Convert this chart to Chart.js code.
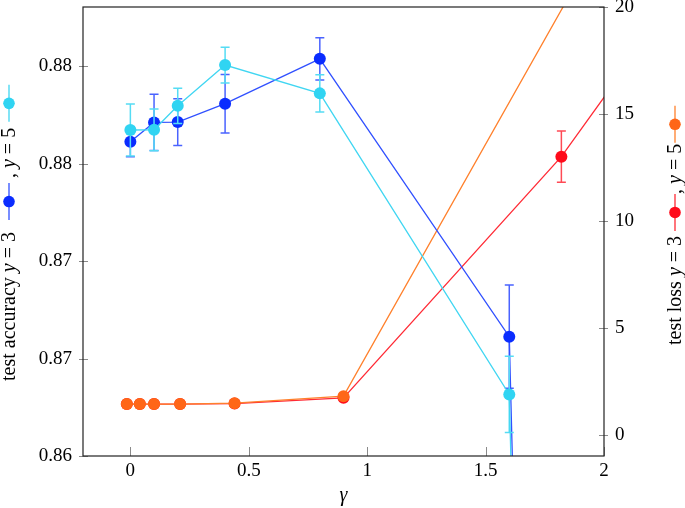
<!DOCTYPE html>
<html lang="en">
<head>
<meta charset="UTF-8">
<title>test accuracy / test loss vs gamma</title>
<script src="https://cdn.jsdelivr.net/npm/chart.js@4.4.0/dist/chart.umd.min.js"></script>
<style>
  html, body { margin:0; padding:0; background:#fff; }
  #wrap { width:685px; height:508px; position:relative; }
</style>
</head>
<body>
<div id="wrap"><canvas id="chart"></canvas></div>
<script>
// test accuracy (left axis)
const gammaAcc = [0, 0.1, 0.2, 0.4, 0.8, 1.6, 3.2];
const accY3    = [0.87612, 0.87711, 0.87713, 0.87807, 0.88037, 0.86612, 0.1];
const accY3Err = [0.00077, 0.00144, 0.0012, 0.0015, 0.00108, 0.00265, 0];
const accY5    = [0.87672, 0.87673, 0.87796, 0.88005, 0.8786, 0.86316, 0.1];
const accY5Err = [0.00133, 0.00107, 0.0009, 0.00092, 0.00096, 0.00195, 0];

// test loss (right axis)
const gammaLoss3 = [-0.015, 0.04, 0.1, 0.21, 0.44, 0.9, 1.82, 3.64];
const lossY3     = [1.43, 1.43, 1.43, 1.43, 1.45, 1.72, 13.0, 41.0];
const lossY3Err  = [0, 0, 0, 0, 0, 0, 1.2, 0];
const gammaLoss5 = [-0.015, 0.04, 0.1, 0.21, 0.44, 0.9, 3.64];
const lossY5     = [1.43, 1.43, 1.43, 1.43, 1.47, 1.8, 55.6];

// ticks
const xTicks = [0, 0.5, 1, 1.5, 2];
const xTickLabels = ['0', '0.5', '1', '1.5', '2'];
const accTicks = [0.86, 0.865, 0.87, 0.875, 0.88];
const accTickLabels = ['0.86', '0.87', '0.87', '0.88', '0.88'];
const lossTicks = [0, 5, 10, 15, 20];
const lossTickLabels = ['0', '5', '10', '15', '20'];

const FAMILY = "'Liberation Serif', 'DejaVu Serif', serif";
const FSIZE = 19;
const LSIZE = 20;

const colY3 = { mark:'#0a2cff', line:'#3050ff', err:'#4a63ff' };
const colY5 = { mark:'#30d4f2', line:'#40d6f2', err:'#55dcf4' };
const colL3 = { mark:'#ff0a1a', line:'#ff2a35', err:'#ff4a55' };
const colL5 = { mark:'#ff6618', line:'#ff802c', err:'#ff802c' };

function pts(xs, ys) { return xs.map((x, i) => ({ x: x, y: ys[i] })); }

function series(label, xs, ys, errs, col, axis, order) {
  return {
    label: label,
    data: pts(xs, ys),
    errors: errs,
    errColor: col.err,
    yAxisID: axis,
    order: order,
    borderColor: col.line,
    backgroundColor: col.mark,
    pointBackgroundColor: col.mark,
    pointBorderWidth: 0,
    pointRadius: 6,
    borderWidth: 1.3,
    tension: 0,
    showLine: true
  };
}

// error bars, drawn just before each dataset so markers sit on top
const errorBars = {
  id: 'errorBars',
  beforeDatasetDraw(chart, args) {
    const ds = chart.data.datasets[args.index];
    if (!ds.errors) return;
    const ctx = chart.ctx, area = chart.chartArea;
    const ys = chart.scales[ds.yAxisID];
    ctx.save();
    ctx.beginPath();
    ctx.rect(area.left, area.top, area.right - area.left, area.bottom - area.top);
    ctx.clip();
    ctx.strokeStyle = ds.errColor;
    ctx.lineWidth = 1.5;
    args.meta.data.forEach((p, i) => {
      const e = ds.errors[i];
      if (!e) return;
      const v = ds.data[i].y;
      const top = ys.getPixelForValue(v + e), bot = ys.getPixelForValue(v - e);
      ctx.beginPath();
      ctx.moveTo(p.x, top); ctx.lineTo(p.x, bot);
      ctx.moveTo(p.x - 4.5, top); ctx.lineTo(p.x + 4.5, top);
      ctx.moveTo(p.x - 4.5, bot); ctx.lineTo(p.x + 4.5, bot);
      ctx.stroke();
    });
    ctx.restore();
  }
};

function drawAxisLegend(ctx, x, y, parts) {
  ctx.save();
  ctx.translate(x, y);
  ctx.rotate(-Math.PI / 2);
  ctx.textBaseline = 'alphabetic';
  ctx.textAlign = 'left';
  ctx.fillStyle = '#000';
  let cx = 0;
  parts.forEach(p => {
    if (p.gap !== undefined) {
      cx += p.gap;
    } else if (p.text !== undefined) {
      ctx.font = (p.italic ? 'italic ' : '') + LSIZE + 'px ' + FAMILY;
      ctx.fillText(p.text, cx, 0);
      cx += ctx.measureText(p.text).width;
    } else {
      const len = 37;
      ctx.strokeStyle = p.col.line;
      ctx.lineWidth = 1.3;
      ctx.beginPath();
      ctx.moveTo(cx, -6); ctx.lineTo(cx + len, -6);
      ctx.stroke();
      ctx.fillStyle = p.col.mark;
      ctx.beginPath();
      ctx.arc(cx + len / 2, -6, 5.8, 0, Math.PI * 2);
      ctx.fill();
      ctx.fillStyle = '#000';
      cx += len;
    }
  });
  ctx.restore();
}

// frame, tick marks, axis titles with inline legend
const frame = {
  id: 'frame',
  afterDraw(chart) {
    const ctx = chart.ctx, a = chart.chartArea;
    const sx = chart.scales.x, sl = chart.scales.y, sr = chart.scales.y1;
    ctx.save();
    ctx.strokeStyle = '#8a8a8a';
    ctx.lineWidth = 1;
    ctx.beginPath();
    xTicks.forEach(v => {
      const px = Math.round(sx.getPixelForValue(v)) + 0.5;
      ctx.moveTo(px, a.bottom); ctx.lineTo(px, a.bottom - 9);
    });
    accTicks.forEach(v => {
      const py = Math.round(sl.getPixelForValue(v)) + 0.5;
      ctx.moveTo(a.left - 4, py); ctx.lineTo(a.left + 5, py);
    });
    lossTicks.forEach(v => {
      const py = Math.round(sr.getPixelForValue(v)) + 0.5;
      ctx.moveTo(a.right - 5, py); ctx.lineTo(a.right + 4, py);
    });
    ctx.stroke();
    ctx.strokeStyle = '#222';
    ctx.lineWidth = 1.2;
    ctx.strokeRect(a.left, a.top, a.right - a.left, a.bottom - a.top);

    ctx.fillStyle = '#000';
    ctx.font = 'italic ' + LSIZE + 'px ' + FAMILY;
    ctx.textAlign = 'center';
    ctx.textBaseline = 'alphabetic';
    ctx.fillText('\u03b3', (a.left + a.right) / 2, 501);
    ctx.restore();

    drawAxisLegend(ctx, 15, 381, [
      { text: 'test accuracy ' }, { text: 'y', italic: true }, { text: ' = 3 ' }, { gap: 7 },
      { col: colY3 }, { text: ' , ' }, { text: 'y', italic: true }, { text: ' = 5 ' }, { gap: 1 },
      { col: colY5 }
    ]);
    drawAxisLegend(ctx, 681, 345, [
      { text: 'test loss ' }, { text: 'y', italic: true }, { text: ' = 3 ' },
      { col: colL3 }, { text: ', ' }, { text: 'y', italic: true }, { text: ' = 5' }, { gap: 1 },
      { col: colL5 }
    ]);
  }
};

const tickFont = { family: FAMILY, size: FSIZE };
const noGrid = { display: false, drawTicks: false, tickLength: 0 };
// keep the plot box at fixed offsets from the canvas edges
const fixV = w => s => { s.width = w; s.paddingTop = 0; s.paddingBottom = 0; };
const fixH = h => s => { s.height = h; s.paddingLeft = 0; s.paddingRight = 0; };

new Chart(document.getElementById('chart'), {
  type: 'line',
  data: {
    datasets: [
      series('test loss y = 3', gammaLoss3, lossY3, lossY3Err, colL3, 'y1', 4),
      series('test loss y = 5', gammaLoss5, lossY5, null, colL5, 'y1', 3),
      series('test accuracy y = 3', gammaAcc, accY3, accY3Err, colY3, 'y', 2),
      series('test accuracy y = 5', gammaAcc, accY5, accY5Err, colY5, 'y', 1)
    ]
  },
  options: {
    responsive: true,
    maintainAspectRatio: false,
    animation: false,
    layout: { padding: { top: 7, left: 0, right: 0, bottom: 0 } },
    plugins: { legend: { display: false }, tooltip: { enabled: false } },
    scales: {
      x: {
        type: 'linear', min: -0.2, max: 2,
        afterBuildTicks: s => { s.ticks = xTicks.map(v => ({ value: v })); },
        afterFit: fixH(52),
        ticks: { callback: (v, i) => xTickLabels[i], color: '#000', font: tickFont, padding: 4, maxRotation: 0, autoSkip: false },
        grid: noGrid,
        border: { display: false }
      },
      y: {
        type: 'linear', position: 'left', min: 0.86, max: 0.88303,
        afterBuildTicks: s => { s.ticks = accTicks.map(v => ({ value: v })); },
        afterFit: fixV(83),
        ticks: { callback: (v, i) => accTickLabels[i], color: '#000', font: tickFont, padding: 11, autoSkip: false },
        grid: noGrid,
        border: { display: false }
      },
      y1: {
        type: 'linear', position: 'right', min: -1, max: 20,
        afterBuildTicks: s => { s.ticks = lossTicks.map(v => ({ value: v })); },
        afterFit: fixV(81),
        ticks: { callback: (v, i) => lossTickLabels[i], color: '#000', font: tickFont, padding: 11, autoSkip: false },
        grid: noGrid,
        border: { display: false }
      }
    }
  },
  plugins: [errorBars, frame]
});
</script>
</body>
</html>
